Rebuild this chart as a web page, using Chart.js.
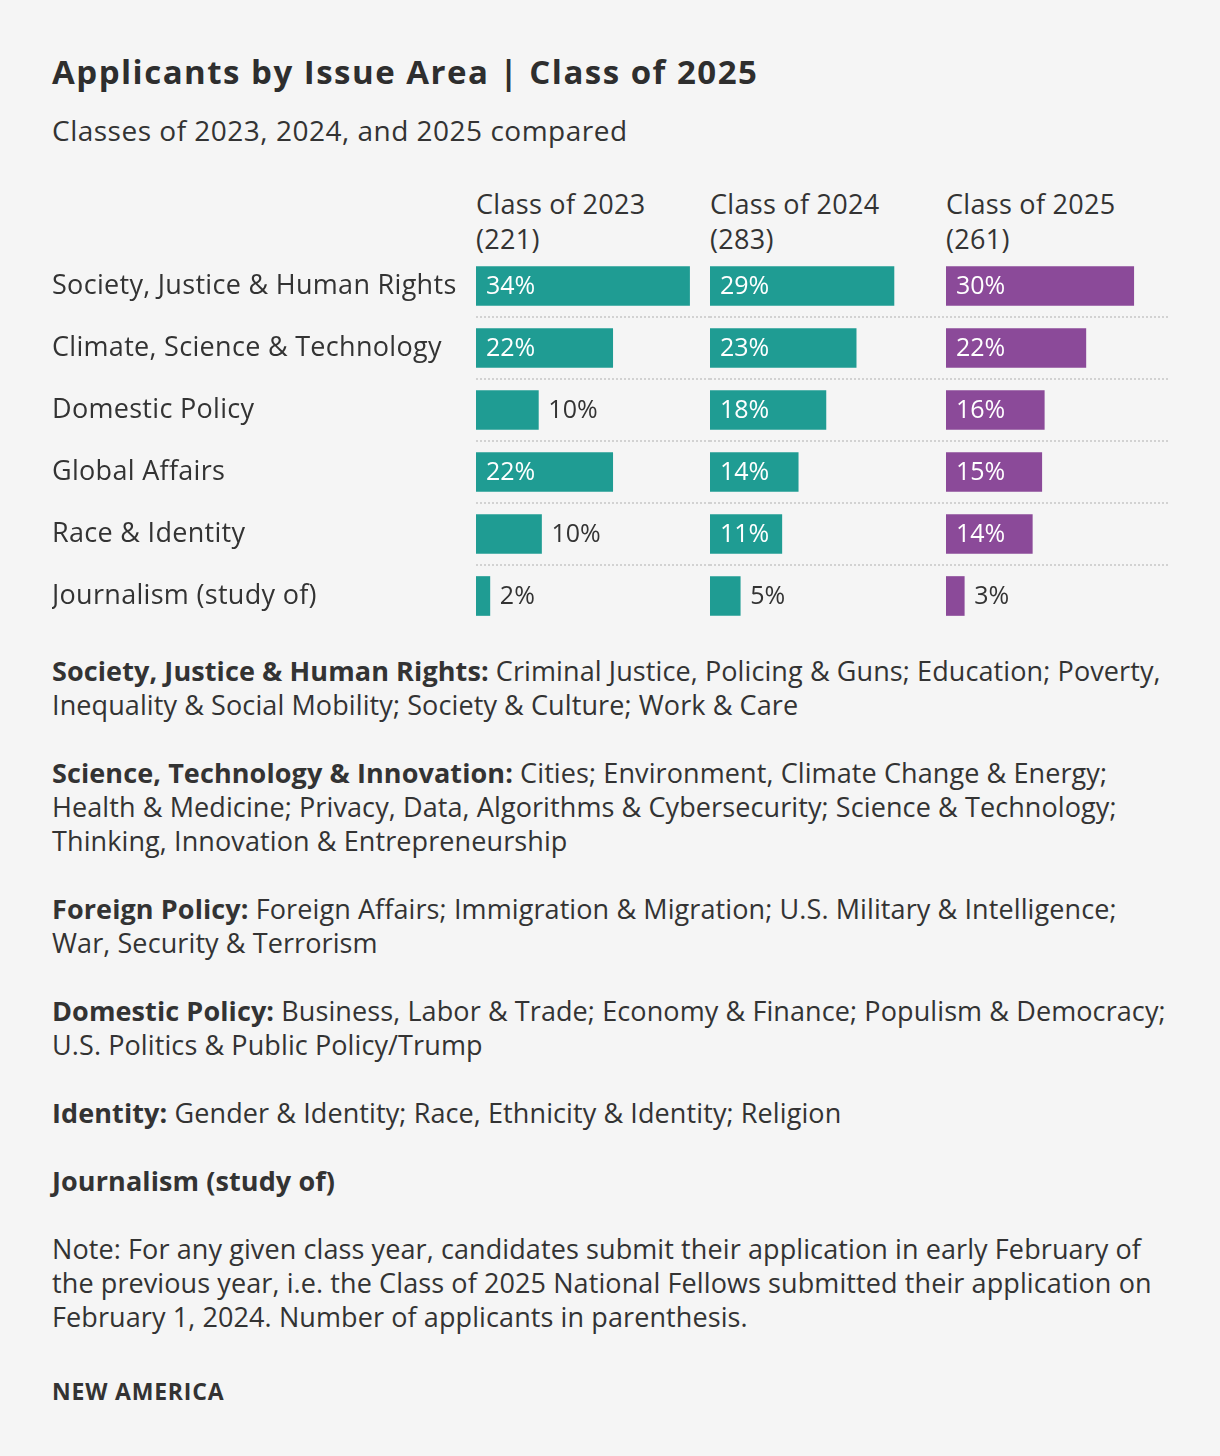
<!DOCTYPE html>
<html><head><meta charset="utf-8">
<script src="https://cdn.jsdelivr.net/npm/chart.js@4"></script>
<style>
html,body{margin:0;padding:0;background:#f5f5f5;}
body{width:1220px;height:1456px;position:relative;overflow:hidden;font-family:'Open Sans',Lato,sans-serif;color:#333;}
.abs{position:absolute;white-space:nowrap;}
#title{left:52px;top:52px;font-size:33px;font-weight:700;line-height:40px;color:#2e2e2e;letter-spacing:1.5px;}
#subtitle{left:52px;top:113px;font-size:28px;line-height:34px;letter-spacing:0.5px;}
.hdr{top:186px;font-size:27px;line-height:35px;letter-spacing:0.3px;}
#notes{left:52px;top:654px;font-size:27px;line-height:34px;letter-spacing:0.1px;}
#notes p{margin:0 0 34px 0;}
#notes b{font-weight:700;}
#source{left:52px;top:1376px;font-size:23px;line-height:30px;font-weight:700;letter-spacing:0.8px;}
canvas{position:absolute;}
</style>
</head><body>
<div id="title" class="abs">Applicants by Issue Area | Class of 2025</div>
<div id="subtitle" class="abs">Classes of 2023, 2024, and 2025 compared</div>
<div id="hdrs"></div>
<canvas id="c0" width="710" height="412" style="left:0px;top:235px;width:710px;height:412px"></canvas>
<canvas id="c1" width="236" height="412" style="left:710px;top:235px;width:236px;height:412px"></canvas>
<canvas id="c2" width="222" height="412" style="left:946px;top:235px;width:222px;height:412px"></canvas>
<div id="notes" class="abs">
<p><b>Society, Justice &amp; Human Rights:</b> Criminal Justice, Policing &amp; Guns; Education; Poverty,<br>Inequality &amp; Social Mobility; Society &amp; Culture; Work &amp; Care</p>
<p><b>Science, Technology &amp; Innovation:</b> Cities; Environment, Climate Change &amp; Energy;<br>Health &amp; Medicine; Privacy, Data, Algorithms &amp; Cybersecurity; Science &amp; Technology;<br>Thinking, Innovation &amp; Entrepreneurship</p>
<p><b>Foreign Policy:</b> Foreign Affairs; Immigration &amp; Migration; U.S. Military &amp; Intelligence;<br>War, Security &amp; Terrorism</p>
<p><b>Domestic Policy:</b> Business, Labor &amp; Trade; Economy &amp; Finance; Populism &amp; Democracy;<br>U.S. Politics &amp; Public Policy/Trump</p>
<p><b>Identity:</b> Gender &amp; Identity; Race, Ethnicity &amp; Identity; Religion</p>
<p><b>Journalism (study of)</b></p>
<p>Note: For any given class year, candidates submit their application in early February of<br>the previous year, i.e. the Class of 2025 National Fellows submitted their application on<br>February 1, 2024. Number of applicants in parenthesis.</p>
</div>
<div id="source" class="abs">NEW AMERICA</div>
<script>
const categories = ["Society, Justice & Human Rights","Climate, Science & Technology","Domestic Policy","Global Affairs","Race & Identity","Journalism (study of)"];
const classLabels = ["Class of 2023","Class of 2024","Class of 2025"];
const applicants = [221, 283, 261];
const values2023 = [33.9, 21.7, 9.9, 21.7, 10.4, 2.2];
const values2024 = [29.2, 23.2, 18.4, 14.0, 11.4, 4.8];
const values2025 = [29.8, 22.2, 15.6, 15.2, 13.7, 2.9];
const seriesValues = [values2023, values2024, values2025];
const seriesColors = ['#1f9c93','#1f9c93','#8b4a99'];

const PX_PER_PCT = 6.3;
const FONT = '"Open Sans", Lato, sans-serif';
const hdrLeft = [476, 710, 946];
const hdrs = document.getElementById('hdrs');
classLabels.forEach((c,i)=>{
  const d = document.createElement('div');
  d.className = 'abs hdr';
  d.style.left = hdrLeft[i] + 'px';
  d.innerHTML = c + '<br>(' + applicants[i] + ')';
  hdrs.appendChild(d);
});

const spacing = {
  id:'spacing',
  beforeDraw(chart){ chart.ctx.letterSpacing = '0.3px'; }
};

const valueLabels = {
  id:'valueLabels',
  afterDatasetsDraw(chart){
    const ctx = chart.ctx;
    const meta = chart.getDatasetMeta(0);
    const data = chart.data.datasets[0].data;
    ctx.save();
    ctx.letterSpacing = '0px';
    ctx.font = '25px ' + FONT;
    ctx.textBaseline = 'middle';
    ctx.textAlign = 'left';
    meta.data.forEach((bar,i)=>{
      const r = Math.round(data[i]);
      const txt = r + '%';
      if (r >= 11) { ctx.fillStyle = '#ffffff'; ctx.fillText(txt, bar.base + 10, bar.y + 1); }
      else { ctx.fillStyle = '#333333'; ctx.fillText(txt, bar.x + 10, bar.y + 1); }
    });
    ctx.restore();
  }
};

Chart.defaults.font.family = FONT;
Chart.defaults.color = '#333';

function makeChart(id, k, withLabels, areaW){
  return new Chart(document.getElementById(id), {
    type:'bar',
    data:{ labels: categories, datasets:[{ data: seriesValues[k], backgroundColor: seriesColors[k], barThickness: 39, borderWidth:0 }]},
    options:{
      indexAxis:'y', responsive:false, animation:false,
      layout:{ padding:{ left: withLabels ? 52 : 0, right:0, top:20, bottom:20 } },
      plugins:{ legend:{display:false}, tooltip:{enabled:false} },
      scales:{
        x:{ display:false, min:0, max: areaW / PX_PER_PCT },
        y:{
          display:true,
          border:{ display:false, dash:[2,2] },
          grid:{ offset:true, drawTicks:false, lineWidth:2,
                 color:(c)=> (c.index >= 1 && c.index <= 5) ? '#d2d2d2' : 'rgba(0,0,0,0)' },
          ticks:{ display: withLabels, crossAlign:'far', padding:0, color:'#333', font:{ size:27, family:FONT } },
          afterFit:(s)=>{ s.width = withLabels ? 424 : 0; }
        }
      }
    },
    plugins:[spacing, valueLabels]
  });
}
makeChart('c0', 0, true, 234);
makeChart('c1', 1, false, 236);
makeChart('c2', 2, false, 222);
</script>
</body></html>
